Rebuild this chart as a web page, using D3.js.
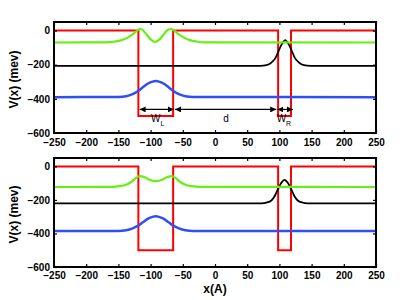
<!DOCTYPE html>
<html><head><meta charset="utf-8">
<script src="https://cdn.jsdelivr.net/npm/d3@7"></script>
<style>
body{margin:0;background:#fff}
text{font-family:"Liberation Sans",Arial,Helvetica,sans-serif}
</style>
</head><body>
<svg id="c" width="415" height="300"></svg>
<script>
// ---------- data ----------
const xTicks = [-250,-200,-150,-100,-50,0,50,100,150,200,250];
const yTicks = [0,-200,-400,-600];
const xDomain = [-250,250];
const yDomain = [-600,50];

// square-well potential (both panels)
const wellPts = [[-250,0],[-119,0],[-119,-500],[-65,-500],[-65,0],[98,0],[98,-500],[118,-500],[118,0],[250,0]];

// top panel
const topGreen = [[-250,-70],[-170,-69],[-155,-64],[-145,-56],[-135,-40],[-127,-20],[-121,0],[-117,9],[-112,2],[-106,-25],[-99,-55],[-93,-67],[-87,-55],[-80,-25],[-74,2],[-68,9],[-63,0],[-57,-20],[-49,-40],[-39,-56],[-29,-64],[-14,-69],[250,-70]];
const topBlack = [[-250,-207],[70,-207],[80,-203],[88,-186],[94,-160],[99,-117],[104,-78],[109,-56],[114,-78],[119,-117],[124,-160],[130,-186],[138,-203],[148,-207],[250,-207]];
const topBlue = [[-250,-390],[-150,-389],[-138,-385],[-128,-373],[-120,-356],[-112,-332],[-104,-310],[-97,-299],[-92,-296],[-87,-299],[-80,-310],[-72,-332],[-64,-356],[-56,-373],[-46,-385],[-34,-389],[250,-390]];

// bottom panel
const botGreen = [[-250,-123],[-160,-122],[-148,-118],[-138,-109],[-130,-93],[-123,-70],[-117,-58],[-110,-63],[-102,-80],[-92,-88],[-82,-80],[-74,-63],[-67,-58],[-61,-70],[-54,-93],[-46,-109],[-36,-118],[-24,-122],[250,-123]];
const botBlack = [[-250,-220],[72,-220],[80,-216],[88,-202],[93,-175],[98,-135],[103,-98],[108,-80],[113,-98],[118,-135],[123,-175],[128,-202],[136,-216],[144,-220],[250,-220]];
const botBlue = [[-250,-386],[-150,-385],[-138,-381],[-128,-370],[-120,-355],[-112,-333],[-104,-312],[-97,-301],[-92,-298],[-87,-301],[-80,-312],[-72,-333],[-64,-355],[-56,-370],[-46,-381],[-34,-385],[250,-386]];

// dimension arrows (top panel)
const arrowY = -462;
const arrowSpans = [[-117,-64],[-62,95],[97,121]];
const dimLabels = [{x:-89,main:"W",sub:"L"},{x:17,main:"d",sub:""},{x:107,main:"W",sub:"R"}];
const labelY = -535;

// ---------- drawing ----------
const svg = d3.select("#c");
const L = 54, R = 376;
const panels = [
  {top:22, bottom:133, green:topGreen, black:topBlack, blue:topBlue, arrows:true, xlabel:false, id:"p0", pad:6},
  {top:158, bottom:267, green:botGreen, black:botBlack, blue:botBlue, arrows:false, xlabel:true, id:"p1", pad:5}
];
const defs = svg.append("defs");
const mk = (id, path) => defs.append("marker").attr("id",id).attr("viewBox","0 0 10 10")
  .attr("refX",10).attr("refY",5).attr("markerWidth",6).attr("markerHeight",6)
  .attr("markerUnits","userSpaceOnUse").attr("orient","auto-start-reverse")
  .append("path").attr("d",path).attr("fill","#000");
mk("ah","M0,0L10,5L0,10Z");

const fmt = d3.format("d");

panels.forEach(p => {
  const x = d3.scaleLinear().domain(xDomain).range([L,R]);
  const y = d3.scaleLinear().domain(yDomain).range([p.bottom,p.top]);
  defs.append("clipPath").attr("id","clip"+p.id).append("rect")
    .attr("x",L).attr("y",p.top).attr("width",R-L).attr("height",p.bottom-p.top);
  const g = svg.append("g");
  const plot = g.append("g").attr("clip-path","url(#clip"+p.id+")");
  const lin = d3.line().x(d=>x(d[0])).y(d=>y(d[1]));
  const smooth = d3.line().x(d=>x(d[0])).y(d=>y(d[1])).curve(d3.curveMonotoneX);
  plot.append("path").attr("d",lin(wellPts)).attr("fill","none").attr("stroke","#ff0000").attr("stroke-width",2);
  plot.append("path").attr("d",smooth(p.blue)).attr("fill","none").attr("stroke","#2f4ff5").attr("stroke-width",2.5);
  plot.append("path").attr("d",smooth(p.black)).attr("fill","none").attr("stroke","#000").attr("stroke-width",1.8);
  plot.append("path").attr("d",smooth(p.green)).attr("fill","none").attr("stroke","#66f011").attr("stroke-width",2.2);

  if (p.arrows) {
    arrowSpans.forEach(s => {
      g.append("line").attr("x1",x(s[0])).attr("x2",x(s[1])).attr("y1",y(arrowY)).attr("y2",y(arrowY))
        .attr("stroke","#000").attr("stroke-width",1.2)
        .attr("marker-start","url(#ah)").attr("marker-end","url(#ah)");
    });
    dimLabels.forEach(l => {
      const t = g.append("text").attr("x",x(l.x)).attr("y",y(labelY)).attr("text-anchor","middle")
        .attr("font-size",10).attr("fill","#000");
      t.append("tspan").text(l.main);
      if (l.sub) t.append("tspan").attr("font-size",7).attr("dy",4).text(l.sub);
    });
  }

  // axes
  const styleAxis = a => { a.select(".domain").remove(); a.selectAll("line").attr("stroke","#000").attr("stroke-width",1.2);
    a.selectAll("text").attr("font-size",10).attr("font-weight","bold").attr("fill","#000")
     .attr("font-family","'Liberation Sans',Arial,sans-serif"); };
  g.append("g").attr("transform",`translate(0,${p.bottom})`)
    .call(d3.axisBottom(x).tickValues(xTicks).tickFormat(fmt).tickSizeInner(-3).tickSizeOuter(0).tickPadding(p.pad)).call(styleAxis);
  g.append("g").attr("transform",`translate(0,${p.top})`)
    .call(d3.axisTop(x).tickValues(xTicks).tickFormat("").tickSizeInner(-3).tickSizeOuter(0)).call(styleAxis);
  g.append("g").attr("transform",`translate(${L},0)`)
    .call(d3.axisLeft(y).tickValues(yTicks).tickFormat(fmt).tickSizeInner(-3).tickSizeOuter(0).tickPadding(4)).call(styleAxis);
  g.append("g").attr("transform",`translate(${R},0)`)
    .call(d3.axisRight(y).tickValues(yTicks).tickFormat("").tickSizeInner(-3).tickSizeOuter(0)).call(styleAxis);

  g.append("rect").attr("x",L).attr("y",p.top).attr("width",R-L).attr("height",p.bottom-p.top)
    .attr("fill","none").attr("stroke","#000").attr("stroke-width",2);

  const cy = (p.top+p.bottom)/2 + 2;
  g.append("text").attr("transform",`translate(18,${cy}) rotate(-90)`).attr("text-anchor","middle")
    .attr("font-size",12).attr("font-weight","bold").attr("fill","#000").text("V(x) (mev)");
  if (p.xlabel) {
    g.append("text").attr("x",(L+R)/2).attr("y",293).attr("text-anchor","middle")
      .attr("font-size",12).attr("font-weight","bold").attr("fill","#000").text("x(A)");
  }
});
</script>
</body></html>
